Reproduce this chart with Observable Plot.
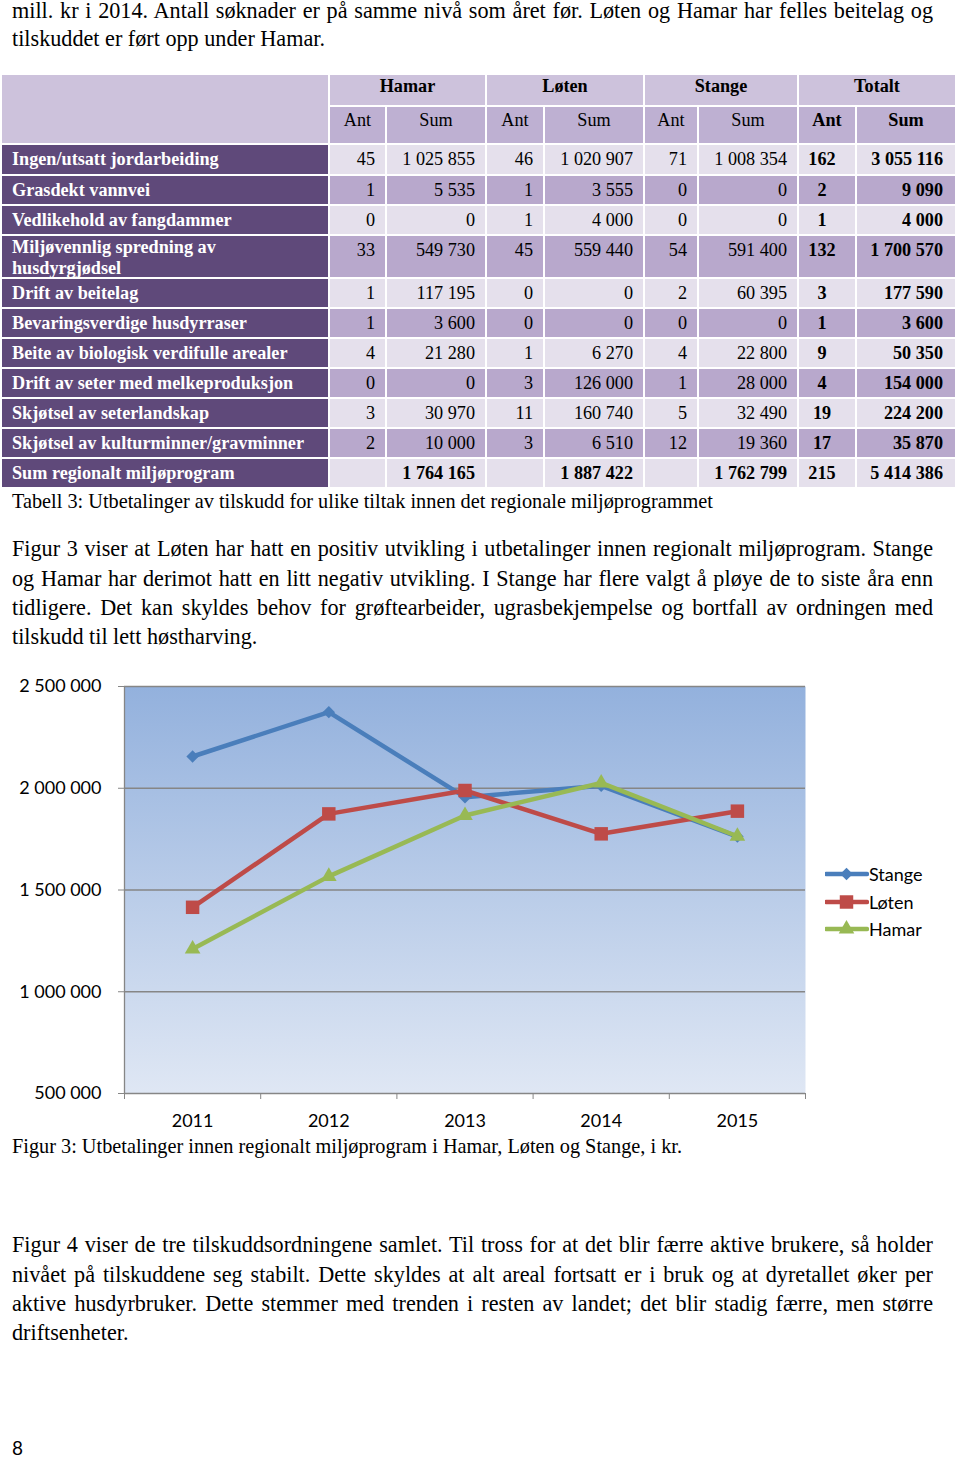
<!DOCTYPE html>
<html><head><meta charset="utf-8">
<script src="https://cdn.jsdelivr.net/npm/d3@7"></script>
<script src="https://cdn.jsdelivr.net/npm/@observablehq/plot@0.6"></script>
<style>
html,body{margin:0;padding:0;background:#fff}
body{width:960px;height:1458px;position:relative;overflow:hidden;font-family:"Liberation Serif","Times New Roman",serif;color:#000}
.t{position:absolute;left:12px;white-space:nowrap;line-height:1}
.j{width:921px;text-align:justify;text-align-last:justify;white-space:normal}
#tbl{position:absolute;left:2px;top:75px;display:grid;gap:2px;background:#fff;
  grid-template-columns:326px 55px 98px 56px 98px 52px 98px 56px 98px;
  grid-template-rows:30px 36px 29px 28px 28px 41px 28px 28px 28px 28px 28px 28px 28px;
  font-size:18.2px;line-height:21px}
#tbl div{box-sizing:border-box;overflow:visible}
.h1{background:#cdc2dc;text-align:center;font-weight:bold;padding-top:1px}
.h2{background:#beb0d2;text-align:center;padding-top:3px}
.lab{background:#5f497a;color:#fff;font-weight:bold;padding:4px 4px 0 10px}
.lab2{padding-top:1px;line-height:20.5px}
.c{padding:4px 10px 0 0;text-align:right}
.ca{padding:4px 10px 0 0;text-align:center}
.cs{padding:4px 12px 0 0;text-align:right}
.lt{background:#e5e0ec}
.md{background:#b8a8cc}
.b{font-weight:bold}
#chart{position:absolute;left:0;top:670px}
.leg{position:absolute;left:825px;font-family:Lato,sans-serif;font-size:18px;line-height:1;white-space:nowrap}
.leg svg{vertical-align:middle}
</style>
</head><body>
<div id="text"></div>
<div id="tbl"></div>
<div id="chart"></div>
<div id="legend"></div>
<script>
// ---------- chart data ----------
const years = [2011, 2012, 2013, 2014, 2015];
const stangeValues = [2156000, 2374000, 1956000, 2012000, 1762799];
const lotenValues  = [1415000, 1874000, 1989000, 1776000, 1887422];
const hamarValues  = [1210000, 1567000, 1866000, 2026000, 1764165];
const seriesNames = ["Stange", "Løten", "Hamar"];
const yTicks = [500000, 1000000, 1500000, 2000000, 2500000];

// ---------- table data ----------
const municipalities = ["Hamar", "Løten", "Stange", "Totalt"];
const rowLabels = [
  "Ingen/utsatt jordarbeiding", "Grasdekt vannvei", "Vedlikehold av fangdammer",
  "Miljøvennlig spredning av husdyrgjødsel", "Drift av beitelag", "Bevaringsverdige husdyrraser",
  "Beite av biologisk verdifulle arealer", "Drift av seter med melkeproduksjon",
  "Skjøtsel av seterlandskap", "Skjøtsel av kulturminner/gravminner", "Sum regionalt miljøprogram"
];
const hamarAnt  = [45, 1, 0, 33, 1, 1, 4, 0, 3, 2, null];
const hamarSum  = [1025855, 5535, 0, 549730, 117195, 3600, 21280, 0, 30970, 10000, 1764165];
const lotenAnt  = [46, 1, 1, 45, 0, 0, 1, 3, 11, 3, null];
const lotenSum  = [1020907, 3555, 4000, 559440, 0, 0, 6270, 126000, 160740, 6510, 1887422];
const stangeAnt = [71, 0, 0, 54, 2, 0, 4, 1, 5, 12, null];
const stangeSum = [1008354, 0, 0, 591400, 60395, 0, 22800, 28000, 32490, 19360, 1762799];
const totalAnt  = [162, 2, 1, 132, 3, 1, 9, 4, 19, 17, 215];
const totalSum  = [3055116, 9090, 4000, 1700570, 177590, 3600, 50350, 154000, 224200, 35870, 5414386];

// ---------- page text ----------
const introLines = [
  "mill. kr i 2014. Antall søknader er på samme nivå som året før. Løten og Hamar har felles beitelag og",
  "tilskuddet er ført opp under Hamar."
];
const tableCaption = "Tabell 3: Utbetalinger av tilskudd for ulike tiltak innen det regionale miljøprogrammet";
const para1 = [
  "Figur 3 viser at Løten har hatt en positiv utvikling i utbetalinger innen regionalt miljøprogram. Stange",
  "og Hamar har derimot hatt en litt negativ utvikling. I Stange har flere valgt å pløye de to siste åra enn",
  "tidligere. Det kan skyldes behov for grøftearbeider, ugrasbekjempelse og bortfall av ordningen med",
  "tilskudd til lett høstharving."
];
const figCaption = "Figur 3: Utbetalinger innen regionalt miljøprogram i Hamar, Løten og Stange, i kr.";
const para2 = [
  "Figur 4 viser de tre tilskuddsordningene samlet. Til tross for at det blir færre aktive brukere, så holder",
  "nivået på tilskuddene seg stabilt. Dette skyldes at alt areal fortsatt er i bruk og at dyretallet øker per",
  "aktive husdyrbruker. Dette stemmer med trenden i resten av landet; det blir stadig færre, men større",
  "driftsenheter."
];
const pageNumber = "8";

// ---------- text layout ----------
const textHost = document.getElementById("text");
function addLine(str, baseline, size, justify, family) {
  const d = document.createElement("div");
  d.className = "t" + (justify ? " j" : "");
  d.style.fontSize = size + "px";
  const asc = family ? 0.887 : 0.8375;
  if (family) d.style.fontFamily = family;
  d.style.top = (baseline - asc * size) + "px";
  d.textContent = str;
  textHost.appendChild(d);
}
const BODY = 22.2, CAP = 20.3, PITCH = 29.3;
addLine(introLines[0], 19, BODY, true);
addLine(introLines[1], 47, BODY, false);
addLine(tableCaption, 508, CAP, false);
para1.forEach((s, i) => addLine(s, 557 + i * PITCH, BODY, i < para1.length - 1));
addLine(figCaption, 1153, CAP, false);
para2.forEach((s, i) => addLine(s, 1253 + i * PITCH, BODY, i < para2.length - 1));
addLine(pageNumber, 1455, 19, false, "Lato, sans-serif");

// ---------- table ----------
const fmt = d => d == null ? "" : d3.format(",")(d).replace(/,/g, " ");
const tbl = document.getElementById("tbl");
function cell(cls, txt, extra) {
  const d = document.createElement("div");
  d.className = cls;
  d.textContent = txt;
  if (extra) Object.assign(d.style, extra);
  tbl.appendChild(d);
  return d;
}
cell("h1", "", {gridRow: "1 / span 2"});
municipalities.forEach(m => cell("h1", m, {gridColumn: "span 2"}));
municipalities.forEach((m, i) => {
  const b = i === municipalities.length - 1 ? " b" : "";
  cell("h2" + b, "Ant");
  cell("h2" + b, "Sum");
});
rowLabels.forEach((lab, r) => {
  const shade = r % 2 === 0 ? " lt" : " md";
  const last = r === rowLabels.length - 1;
  const sb = last ? " b" : "";
  cell(lab.length > 38 ? "lab lab2" : "lab", lab);
  cell("c" + shade, fmt(hamarAnt[r]));
  cell("c" + shade + sb, fmt(hamarSum[r]));
  cell("c" + shade, fmt(lotenAnt[r]));
  cell("c" + shade + sb, fmt(lotenSum[r]));
  cell("c" + shade, fmt(stangeAnt[r]));
  cell("c" + shade + sb, fmt(stangeSum[r]));
  cell("ca b" + shade, fmt(totalAnt[r]));
  cell("cs b" + shade, fmt(totalSum[r]));
});

// ---------- chart ----------
const seriesValues = [stangeValues, lotenValues, hamarValues];
const seriesColors = ["#4a7ebb", "#be4b48", "#98b954"];
const seriesSymbols = ["diamond2", "square", "triangle"];
const seriesR = [5.6, 7.6, 5.8];
const data = seriesNames.map((name, s) => years.map((year, i) => ({series: name, year, value: seriesValues[s][i]})));
const bounds = d3.range(years.length + 1).map(i => years[0] - 0.5 + i);
const GRID = "#868686";

const seriesMarks = data.flatMap((rows, s) => [
  Plot.line(rows, {x: "year", y: "value", stroke: seriesColors[s], strokeWidth: 4.5, strokeLinejoin: "round", strokeLinecap: "round"}),
  Plot.dot(rows, {x: "year", y: "value", symbol: seriesSymbols[s], fill: seriesColors[s], stroke: "none", r: seriesR[s]})
]);

const chart = Plot.plot({
  width: 960, height: 463,
  marginLeft: 124, marginRight: 155, marginTop: 16, marginBottom: 40,
  style: {fontFamily: "Lato, sans-serif", fontSize: "18px", color: "#000", background: "transparent", overflow: "visible"},
  x: {domain: [bounds[0], bounds[bounds.length - 1]]},
  y: {domain: [yTicks[0], yTicks[yTicks.length - 1]]},
  marks: [
    Plot.frame({fill: "url(#plotBg)", stroke: "none"}),
    Plot.gridY(yTicks, {stroke: GRID, strokeOpacity: 1, strokeWidth: 1.3}),
    Plot.ruleX([bounds[0]], {stroke: GRID, strokeWidth: 1.3}),
    Plot.axisY(yTicks, {tickSize: 6, tickPadding: 17, tickFormat: fmt, stroke: GRID, fill: "#000", label: null}),
    Plot.axisX(bounds, {tickSize: 6, tickFormat: () => "", stroke: GRID, label: null}),
    Plot.axisX(years, {tickSize: 0, tickPadding: 21, tickFormat: d => String(d), fill: "#000", label: null}),
    ...seriesMarks
  ]
});
d3.select(chart).insert("defs", ":first-child").html(
  '<linearGradient id="plotBg" x1="0" y1="0" x2="0" y2="1">' +
  '<stop offset="0" stop-color="#93b1dd"/><stop offset="1" stop-color="#dfe7f4"/></linearGradient>'
);
document.getElementById("chart").appendChild(chart);

// ---------- legend ----------
const legendHost = document.getElementById("legend");
const legendCenters = [874, 902, 929];
seriesNames.forEach((name, s) => {
  const d = document.createElement("div");
  d.className = "leg";
  d.style.top = (legendCenters[s] - 11) + "px";
  d.style.height = "22px";
  d.style.display = "flex";
  d.style.alignItems = "center";
  const sym = {diamond2: d3.symbolDiamond2, square: d3.symbolSquare, triangle: d3.symbolTriangle}[seriesSymbols[s]];
  const size = Math.PI * seriesR[s] * seriesR[s];
  const path = d3.symbol(sym, size)();
  d.innerHTML = `<svg width="44" height="22"><line x1="1" x2="42" y1="11" y2="11" stroke="${seriesColors[s]}" stroke-width="4.5" stroke-linecap="round"/>` +
    `<path transform="translate(21.5,11)" d="${path}" fill="${seriesColors[s]}"/></svg><span>${name}</span>`;
  legendHost.appendChild(d);
});
</script>
</body></html>
